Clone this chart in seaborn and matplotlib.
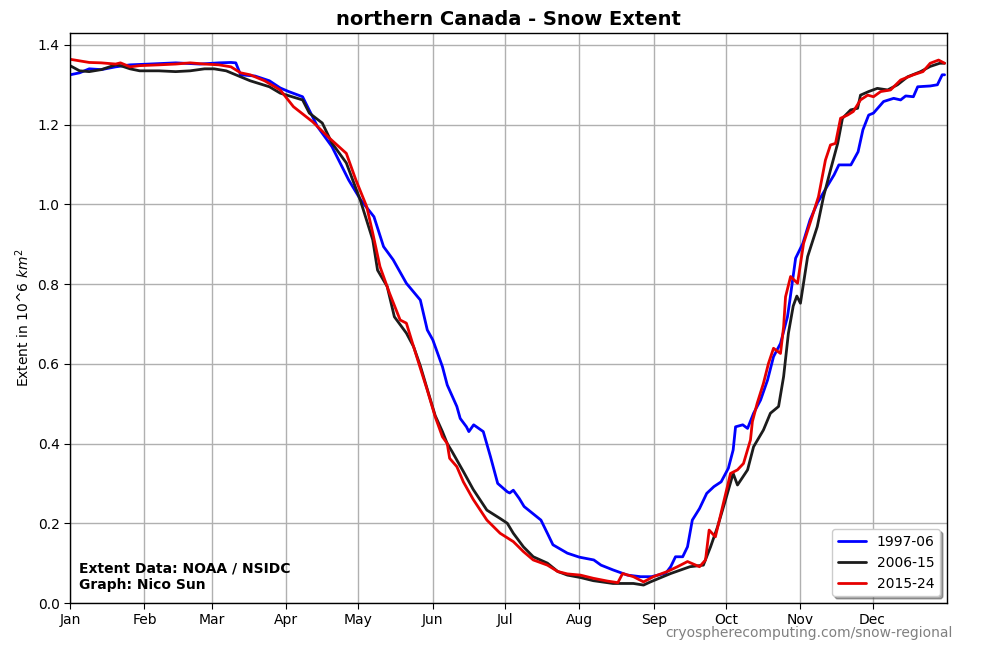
import pandas as pd
import numpy as np
import matplotlib
matplotlib.use("Agg")
import matplotlib.pyplot as plt
import seaborn as sns

# values (day of year, extent in 10^6 km2)
blue_days = [1, 5, 9, 14, 20, 26, 34, 45, 55, 63, 68, 70, 72, 78, 84, 88.5, 92, 97.8, 104, 110, 117, 122,
             127.5, 131.5, 135.5, 141, 146.8, 149.7, 152, 156, 158, 162, 163.4, 166, 167, 169, 173, 176,
             179, 183, 184, 185.5, 188, 190, 197, 200, 202, 208, 213, 219, 222, 227, 233, 238.5, 243,
             249, 251, 253, 256, 258, 260, 263, 266, 269, 272, 275, 277, 278, 281, 283, 285.5, 288.4,
             291.3, 293.8, 296.7, 299.6, 300.5, 303, 306, 309, 312, 316, 319, 321, 326, 329, 331, 333.4,
             335.4, 339.6, 343.8, 346.7, 348.8, 352, 353.8, 359, 362, 364, 365]
blue_vals = [1.325, 1.330, 1.340, 1.338, 1.345, 1.350, 1.352, 1.355, 1.352, 1.355, 1.356, 1.355, 1.325,
             1.322, 1.310, 1.292, 1.283, 1.270, 1.195, 1.145, 1.061, 1.011, 0.969, 0.894, 0.861, 0.802,
             0.760, 0.685, 0.660, 0.593, 0.547, 0.493, 0.463, 0.442, 0.430, 0.447, 0.430, 0.367, 0.300,
             0.279, 0.276, 0.283, 0.262, 0.242, 0.208, 0.171, 0.146, 0.125, 0.115, 0.108, 0.095, 0.083,
             0.070, 0.066, 0.066, 0.075, 0.091, 0.116, 0.116, 0.141, 0.208, 0.237, 0.275, 0.292, 0.304,
             0.338, 0.384, 0.442, 0.447, 0.438, 0.476, 0.509, 0.559, 0.618, 0.651, 0.718, 0.755, 0.865,
             0.902, 0.961, 1.003, 1.044, 1.074, 1.099, 1.099, 1.132, 1.187, 1.224, 1.229, 1.258, 1.266,
             1.262, 1.272, 1.270, 1.295, 1.297, 1.300, 1.325, 1.325]

black_days = [1, 5, 9, 14, 20, 22, 26, 30, 38, 45, 51, 57, 61, 66, 70, 76, 84, 88.5, 97.8, 100.6, 106,
              110, 116, 121.8, 127, 129, 133, 136, 141, 144, 146.8, 150, 153, 156, 158, 160, 164.7,
              168.8, 174.5, 180, 183, 185.5, 189.7, 193.8, 199.7, 204, 208, 213.4, 218.8, 227, 235.5,
              239.7, 242.6, 251, 259, 264.6, 267.6, 270.5, 273.8, 277, 278.8, 283, 285.5, 289.6, 292.5,
              295.9, 298, 300, 302, 303.5, 305, 308, 312, 314.6, 317.5, 320.5, 322.5, 325.9, 328.8, 330,
              333.4, 337, 341.3, 345.4, 349.6, 355, 359, 363, 365]
black_vals = [1.348, 1.335, 1.333, 1.338, 1.350, 1.348, 1.340, 1.335, 1.335, 1.333, 1.335, 1.340, 1.340,
              1.335, 1.325, 1.310, 1.295, 1.279, 1.262, 1.229, 1.204, 1.154, 1.104, 1.011, 0.911, 0.835,
              0.794, 0.718, 0.677, 0.643, 0.595, 0.530, 0.470, 0.430, 0.400, 0.380, 0.330, 0.285, 0.233,
              0.212, 0.200, 0.175, 0.141, 0.116, 0.100, 0.079, 0.070, 0.064, 0.056, 0.049, 0.049, 0.045,
              0.053, 0.074, 0.091, 0.095, 0.141, 0.191, 0.258, 0.325, 0.296, 0.334, 0.392, 0.434, 0.476,
              0.493, 0.568, 0.677, 0.745, 0.770, 0.752, 0.869, 0.944, 1.019, 1.086, 1.153, 1.216, 1.237,
              1.241, 1.274, 1.283, 1.291, 1.287, 1.300, 1.320, 1.333, 1.346, 1.354, 1.354]

red_days = [1, 5, 9, 14, 20, 22, 26, 30, 38, 45, 51, 57, 63, 68, 72, 76, 82, 88.5, 94, 102, 109, 116,
            120, 124.5, 127, 130, 134, 138.4, 141, 144, 146.8, 149.7, 153, 156, 158, 159, 162, 164.7,
            168.8, 174.5, 180, 185.5, 189.7, 193.8, 199.7, 204, 208, 213.4, 218.8, 224.7, 229, 231,
            235.5, 239.7, 243.8, 249.6, 253.8, 258, 263, 265.5, 267, 269.6, 272.6, 275.9, 278.8, 281.3,
            284.2, 285, 287, 289.6, 291.7, 293.8, 296.7, 298, 298.8, 300.9, 303.8, 306.3, 309, 312.5,
            315.4, 317.5, 319.6, 321.7, 324.6, 327, 330, 333, 335.4, 338.4, 342.5, 346.7, 352, 356, 359,
            362.5, 365]
red_vals = [1.364, 1.360, 1.356, 1.355, 1.352, 1.355, 1.345, 1.348, 1.350, 1.352, 1.355, 1.352, 1.350,
            1.345, 1.330, 1.325, 1.310, 1.287, 1.245, 1.207, 1.166, 1.128, 1.061, 0.994, 0.928, 0.844,
            0.777, 0.710, 0.702, 0.643, 0.589, 0.534, 0.467, 0.417, 0.400, 0.363, 0.342, 0.304, 0.260,
            0.208, 0.175, 0.154, 0.129, 0.108, 0.095, 0.079, 0.073, 0.070, 0.062, 0.055, 0.051, 0.074,
            0.066, 0.053, 0.066, 0.079, 0.091, 0.104, 0.091, 0.108, 0.183, 0.166, 0.242, 0.325, 0.334,
            0.350, 0.409, 0.455, 0.501, 0.551, 0.601, 0.639, 0.626, 0.693, 0.768, 0.819, 0.802, 0.902,
            0.953, 1.019, 1.111, 1.149, 1.153, 1.216, 1.224, 1.233, 1.262, 1.274, 1.270, 1.283, 1.287,
            1.312, 1.325, 1.333, 1.354, 1.362, 1.354]

periods = ["1997-06", "2006-15", "2015-24"]
colors = ["#0000ff", "#1c1c1c", "#e60000"]
month_starts = [1, 32, 60, 91, 121, 152, 182, 213, 244, 274, 305, 335]
month_labels = ["Jan", "Feb", "Mar", "Apr", "May", "Jun", "Jul", "Aug", "Sep", "Oct", "Nov", "Dec"]

frames = []
for name, d, v in zip(periods, [blue_days, black_days, red_days], [blue_vals, black_vals, red_vals]):
    frames.append(pd.DataFrame({"day": d, "extent": v, "period": name}))
df = pd.concat(frames, ignore_index=True)

sns.set_style("ticks")
plt.rcParams["font.family"] = ["DejaVu Sans"]
plt.rcParams.update({"text.color": "black", "axes.labelcolor": "black",
                     "xtick.color": "black", "ytick.color": "black"})

fig = plt.figure(figsize=(10, 6.5), dpi=100)
ax = fig.add_axes([0.07, 0.0723, 0.877, 0.877])

sns.lineplot(data=df, x="day", y="extent", hue="period", palette=colors,
             linewidth=2, sort=False, ax=ax)

ax.set_xlim(1, 366)
ax.set_ylim(0, 1.43)
ax.set_xticks(month_starts)
ax.set_xticklabels(month_labels)
ax.set_yticks(np.arange(0, 1.41, 0.2))
ax.grid(True, color="#b0b0b0", linewidth=1)
ax.set_axisbelow(True)
for s in ax.spines.values():
    s.set_color("black")
    s.set_linewidth(1)
ax.tick_params(labelsize=10, direction="out", length=4, color="black", labelcolor="black")

ax.set_xlabel("")
ax.set_ylabel("Extent in 10^6 $km^2$", fontsize=10, color="black")
ax.set_title("northern Canada - Snow Extent", fontsize=14, fontweight="bold", color="black")

leg = ax.legend(loc="lower right", shadow=True, fancybox=True, fontsize=10)
for t in leg.get_texts():
    t.set_color("black")

ax.text(0.01, 0.02, "Extent Data: NOAA / NSIDC\nGraph: Nico Sun", transform=ax.transAxes,
        fontsize=10, fontweight="bold", va="bottom", ha="left", color="black")
fig.text(0.953, 0.015, "cryospherecomputing.com/snow-regional", fontsize=10,
         color="gray", ha="right", va="bottom")

fig.savefig("out.png", dpi=100)
